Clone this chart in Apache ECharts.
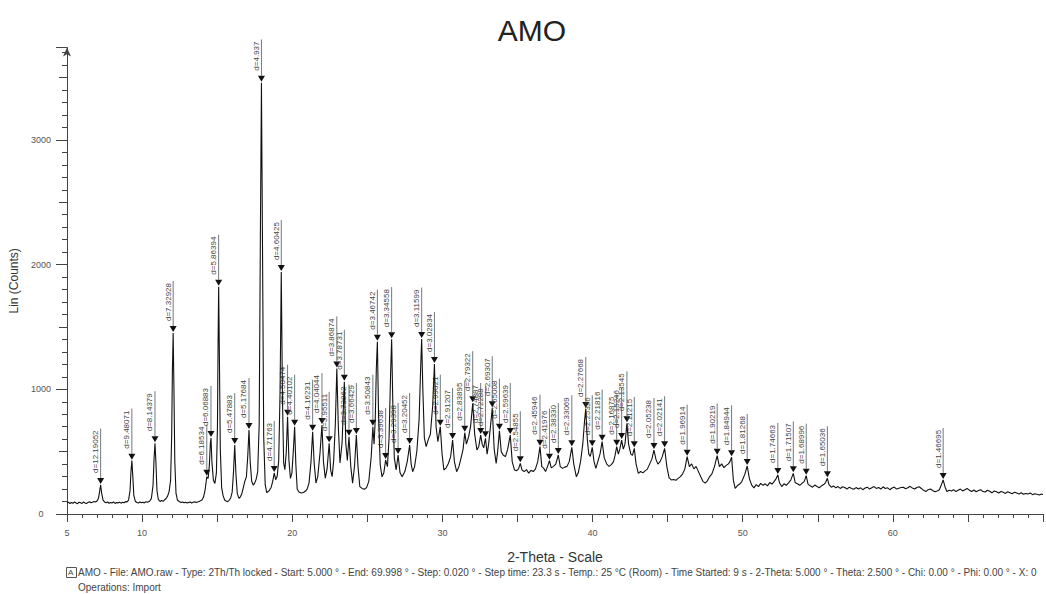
<!DOCTYPE html>
<html><head><meta charset="utf-8">
<script src="https://cdn.jsdelivr.net/npm/echarts@6/dist/echarts.min.js"></script>
<style>html,body{margin:0;padding:0;background:#fff}#c{width:1046px;height:594px}</style>
</head><body><div id="c"></div><script>
const chartTitle = 'AMO';
const xAxisTitle = '2-Theta - Scale';
const yAxisTitle = 'Lin (Counts)';
const xTickLabels = [5, 10, 20, 30, 40, 50, 60];
const yTickLabels = [0, 1000, 2000, 3000];
const footerLines = [
  'AMO - File: AMO.raw - Type: 2Th/Th locked - Start: 5.000 \u00b0 - End: 69.998 \u00b0 - Step: 0.020 \u00b0 - Step time: 23.3 s - Temp.: 25 \u00b0C (Room) - Time Started: 9 s - 2-Theta: 5.000 \u00b0 - Theta: 2.500 \u00b0 - Chi: 0.00 \u00b0 - Phi: 0.00 \u00b0 - X: 0',
  'Operations: Import'
];

// 2-Theta (deg), Lin counts
const profile = [
[5.00,88],[5.10,95],[5.20,84],[5.30,92],[5.40,86],[5.50,97],[5.60,88],[5.70,83],[5.80,94],[5.90,90],
[6.00,85],[6.10,96],[6.20,89],[6.30,84],[6.40,93],[6.50,99],[6.60,90],[6.70,95],[6.80,101],[6.90,96],
[7.00,104],[7.10,128],[7.17,180],[7.24,233],[7.31,165],[7.40,112],[7.50,97],[7.60,90],[7.70,96],[7.80,86],
[7.90,93],[8.00,88],[8.10,97],[8.20,85],[8.30,92],[8.40,89],[8.50,95],[8.60,87],[8.70,94],[8.80,90],
[8.90,99],[9.00,97],[9.10,112],[9.20,190],[9.26,340],[9.32,428],[9.38,310],[9.45,150],[9.55,102],[9.65,92],
[9.75,88],[9.85,96],[9.95,90],[10.05,95],[10.15,89],[10.25,98],[10.35,94],[10.50,102],[10.62,125],[10.73,230],
[10.80,450],[10.86,567],[10.92,420],[10.99,190],[11.08,118],[11.20,100],[11.30,108],[11.40,102],[11.50,114],[11.60,124],
[11.70,143],[11.80,180],[11.90,270],[11.97,620],[12.02,1150],[12.07,1451],[12.12,1020],[12.18,420],[12.26,165],[12.36,110],
[12.50,98],[12.60,92],[12.70,97],[12.80,90],[12.90,95],[13.00,88],[13.10,93],[13.20,96],[13.30,89],[13.40,94],
[13.50,98],[13.60,92],[13.70,97],[13.80,101],[13.90,106],[14.00,114],[14.10,138],[14.20,195],[14.31,299],[14.40,285],
[14.48,390],[14.55,570],[14.59,609],[14.65,420],[14.75,270],[14.85,245],[14.95,330],[15.02,700],[15.06,1350],[15.10,1823],
[15.15,1250],[15.21,520],[15.30,210],[15.40,145],[15.50,112],[15.60,104],[15.70,99],[15.80,110],[15.90,128],[16.00,175],
[16.09,340],[16.17,553],[16.25,320],[16.34,165],[16.45,125],[16.55,138],[16.65,165],[16.75,215],[16.85,265],[16.95,300],
[17.04,470],[17.12,673],[17.20,420],[17.30,262],[17.40,232],[17.50,248],[17.60,280],[17.70,340],[17.80,720],[17.88,2250],
[17.95,3459],[18.02,2150],[18.10,620],[18.20,235],[18.30,172],[18.45,185],[18.60,215],[18.70,262],[18.80,329],[18.90,275],
[19.00,305],[19.10,430],[19.19,980],[19.27,1940],[19.35,920],[19.43,410],[19.51,355],[19.60,490],[19.69,780],[19.78,430],
[19.88,285],[19.98,330],[20.08,520],[20.16,700],[20.24,400],[20.33,200],[20.45,176],[20.60,168],[20.75,172],[20.90,186],
[21.00,202],[21.12,250],[21.25,420],[21.36,660],[21.46,410],[21.58,248],[21.70,300],[21.85,490],[21.98,713],[22.08,420],
[22.20,288],[22.32,360],[22.46,567],[22.56,350],[22.66,300],[22.76,430],[22.87,720],[22.97,1167],[23.07,700],[23.18,410],
[23.32,570],[23.47,1061],[23.57,560],[23.67,430],[23.78,620],[23.90,380],[24.02,248],[24.15,385],[24.27,633],[24.38,380],
[24.50,220],[24.65,205],[24.80,198],[24.95,212],[25.10,262],[25.26,460],[25.37,700],[25.45,560],[25.53,760],[25.60,1160],
[25.67,1382],[25.75,790],[25.86,395],[25.98,298],[26.10,330],[26.22,433],[26.34,380],[26.45,610],[26.55,1120],[26.62,1402],
[26.70,880],[26.80,450],[26.92,353],[27.05,473],[27.18,330],[27.32,298],[27.50,340],[27.66,420],[27.82,553],[27.92,400],
[28.02,339],[28.15,380],[28.30,505],[28.45,760],[28.55,1160],[28.62,1403],[28.70,990],[28.80,610],[28.92,540],[29.05,592],
[29.20,640],[29.35,860],[29.47,1203],[29.58,700],[29.70,580],[29.86,700],[29.98,480],[30.10,353],[30.25,370],[30.40,405],
[30.55,460],[30.68,593],[30.80,420],[30.95,339],[31.10,380],[31.25,452],[31.38,520],[31.49,652],[31.60,560],[31.75,620],
[31.88,705],[32.02,888],[32.15,640],[32.30,513],[32.42,540],[32.55,633],[32.65,560],[32.75,530],[32.87,607],[32.98,480],
[33.08,560],[33.20,700],[33.32,848],[33.45,520],[33.58,406],[33.68,500],[33.80,668],[33.92,500],[34.05,473],[34.20,460],
[34.35,520],[34.52,633],[34.65,420],[34.80,353],[34.95,348],[35.07,362],[35.19,406],[35.30,353],[35.45,340],[35.60,356],
[35.75,328],[35.90,350],[36.05,340],[36.20,362],[36.35,420],[36.50,540],[36.62,380],[36.75,366],[36.87,340],[37.00,380],
[37.13,428],[37.25,370],[37.40,382],[37.55,400],[37.72,473],[37.85,380],[38.00,366],[38.15,376],[38.30,382],[38.45,420],
[38.62,535],[38.75,400],[38.92,299],[39.05,330],[39.20,420],[39.35,560],[39.47,750],[39.55,842],[39.65,600],[39.75,480],
[39.85,462],[39.98,535],[40.10,420],[40.22,366],[40.35,420],[40.50,482],[40.64,580],[40.78,450],[40.95,400],[41.10,382],
[41.25,396],[41.40,420],[41.50,470],[41.61,540],[41.72,480],[41.82,522],[41.94,593],[42.05,520],[42.16,560],[42.29,727],
[42.40,560],[42.55,480],[42.66,470],[42.78,527],[42.90,400],[43.05,326],[43.20,342],[43.35,330],[43.50,346],[43.65,360],
[43.80,400],[43.95,440],[44.09,513],[44.22,440],[44.35,400],[44.50,420],[44.65,462],[44.80,527],[44.95,380],[45.10,290],
[45.25,273],[45.40,277],[45.55,270],[45.70,286],[45.85,300],[46.00,322],[46.15,362],[46.30,460],[46.45,380],[46.60,402],
[46.75,362],[46.90,382],[47.05,340],[47.20,300],[47.35,262],[47.50,248],[47.65,266],[47.80,300],[47.95,322],[48.12,380],
[48.30,468],[48.45,380],[48.60,402],[48.75,372],[48.90,390],[49.05,402],[49.15,420],[49.26,455],[49.38,270],[49.50,206],
[49.65,228],[49.80,240],[49.95,262],[50.15,322],[50.30,385],[50.45,282],[50.60,232],[50.75,210],[50.90,236],[51.05,220],
[51.20,246],[51.35,230],[51.50,242],[51.65,226],[51.80,252],[51.95,240],[52.10,262],[52.22,282],[52.34,313],[52.45,250],
[52.60,220],[52.75,242],[52.90,230],[53.05,250],[53.20,272],[53.37,326],[53.50,250],[53.65,242],[53.80,230],[53.95,246],
[54.10,262],[54.23,307],[54.35,240],[54.50,226],[54.65,215],[54.80,232],[54.95,220],[55.10,210],[55.25,226],[55.40,236],
[55.52,252],[55.64,286],[55.75,236],[55.90,215],[56.05,225],[56.20,210],[56.35,220],[56.50,205],[56.65,218],[56.80,212],
[56.95,200],[57.10,215],[57.25,205],[57.40,198],[57.55,212],[57.70,200],[57.85,210],[58.00,195],[58.15,208],[58.30,215],
[58.45,200],[58.60,210],[58.75,220],[58.90,205],[59.05,212],[59.20,200],[59.35,218],[59.50,205],[59.65,210],[59.80,195],
[59.95,208],[60.10,216],[60.25,200],[60.40,206],[60.55,212],[60.70,215],[60.85,203],[61.00,210],[61.15,222],[61.30,208],
[61.45,200],[61.60,212],[61.75,218],[61.90,205],[62.05,190],[62.20,180],[62.35,195],[62.50,200],[62.65,188],[62.80,178],
[62.95,185],[63.10,195],[63.22,230],[63.35,273],[63.48,215],[63.60,180],[63.75,190],[63.90,185],[64.05,195],[64.20,180],
[64.35,190],[64.50,200],[64.65,185],[64.80,195],[64.95,205],[65.10,190],[65.25,180],[65.40,192],[65.55,178],[65.70,188],
[65.85,195],[66.00,180],[66.15,176],[66.30,190],[66.45,182],[66.60,170],[66.75,185],[66.90,178],[67.05,168],[67.20,180],
[67.35,174],[67.50,165],[67.65,178],[67.80,170],[67.95,162],[68.10,175],[68.25,168],[68.40,160],[68.55,170],[68.70,158],
[68.85,165],[69.00,160],[69.15,168],[69.30,155],[69.45,162],[69.60,158],[69.75,152],[69.90,160],[70.00,156]
];

const peakTheta = [7.24,9.32,10.86,12.07,14.31,14.59,15.10,16.17,17.12,17.95,18.80,19.27,19.69,20.16,21.36,21.98,22.46,22.97,23.47,23.78,24.27,25.37,25.67,26.22,26.62,27.05,27.82,28.62,29.47,29.86,30.68,31.49,32.02,32.55,32.87,33.32,33.80,34.52,35.19,36.50,37.13,37.72,38.62,39.55,39.98,40.64,41.61,41.94,42.29,42.78,44.09,44.80,46.30,48.30,49.26,50.30,52.34,53.37,54.23,55.64,63.35];
const peakCounts = [233,428,567,1451,299,609,1823,553,673,3459,329,1940,780,700,660,713,567,1167,1061,620,633,700,1382,433,1402,473,553,1403,1203,700,593,652,888,633,607,848,668,633,406,540,428,473,535,842,535,580,540,593,727,527,513,527,460,468,455,385,313,326,307,286,273];
const peakLabels = ['d=12.19052','d=9.48071','d=8.14379','d=7.32928','d=6.18534','d=6.06883','d=5.86394','d=5.47883','d=5.17684','d=4.937','d=4.71763','d=4.60425','d=4.50474','d=4.40102','d=4.16231','d=4.04044','d=3.95511','d=3.86874','d=3.78731','d=3.73862','d=3.66429','d=3.50843','d=3.46742','d=3.39638','d=3.34558','d=3.29398','d=3.20452','d=3.11599','d=3.02834','d=2.99021','d=2.91207','d=2.83895','d=2.79322','d=2.74887','d=2.72288','d=2.69307','d=2.65008','d=2.59639','d=2.54855','d=2.45946','d=2.41976','d=2.38330','d=2.33069','d=2.27668','d=2.25326','d=2.21816','d=2.16875','d=2.15246','d=2.13545','d=2.11215','d=2.05238','d=2.02141','d=1.96914','d=1.90219','d=1.84944','d=1.81268','d=1.74663','d=1.71507','d=1.68996','d=1.65036','d=1.46695'];

const FONT = '"Liberation Sans", Arial, sans-serif';
const measureCtx = document.createElement('canvas').getContext('2d');
measureCtx.font = '8px ' + FONT;

const chart = echarts.init(document.getElementById('c'), null, {renderer: 'svg'});
const axisColor = '#444';
const yMax = 3740;
const xBase = {type: 'value', min: 5, max: 70, position: 'bottom', splitLine: {show: false}, axisLine: {show: false}, axisLabel: {show: false}};
const yBase = {type: 'value', min: 0, max: yMax, position: 'left', splitLine: {show: false}, axisLine: {show: false}, axisLabel: {show: false}};

chart.setOption({
  backgroundColor: '#fff',
  animation: false,
  textStyle: {fontFamily: FONT},
  grid: {left: 66, top: 514 - yMax * 0.1247, height: yMax * 0.1247, width: 985, containLabel: false},
  xAxis: [
    Object.assign({}, xBase, {
      interval: 5,
      axisLine: {show: true, lineStyle: {color: axisColor, width: 1}},
      axisTick: {show: true, length: 8, lineStyle: {color: axisColor}},
      axisLabel: {show: true, fontSize: 9, color: '#555', margin: 14, formatter: v => xTickLabels.includes(v) ? String(v) : ''},
      name: xAxisTitle, nameLocation: 'middle', nameGap: 36, nameTextStyle: {fontSize: 14, color: '#333', fontFamily: FONT}
    }),
    Object.assign({}, xBase, {interval: 1, axisTick: {show: true, length: 4, lineStyle: {color: axisColor}}})
  ],
  yAxis: [
    Object.assign({}, yBase, {
      interval: 1000,
      axisLine: {show: true, lineStyle: {color: axisColor, width: 1}, symbol: ['none', 'arrow'], symbolSize: [6, 9]},
      axisTick: {show: true, length: 11, lineStyle: {color: axisColor}},
      axisLabel: {show: true, fontSize: 9, color: '#555', margin: 26, align: 'center', formatter: v => yTickLabels.includes(v) ? String(v) : ''},
      name: yAxisTitle, nameLocation: 'middle', nameGap: 47, nameRotate: 90, nameTextStyle: {fontSize: 12, color: '#333', fontFamily: FONT}
    }),
    Object.assign({}, yBase, {interval: 500, axisTick: {show: true, length: 8, lineStyle: {color: axisColor}}}),
    Object.assign({}, yBase, {interval: 100, axisTick: {show: true, length: 5, lineStyle: {color: axisColor}}})
  ],
  graphic: [
    {type: 'text', x: 532, y: 30, style: {text: chartTitle, font: '30px ' + FONT, fill: '#222', align: 'center', verticalAlign: 'middle', textAlign: 'center', textVerticalAlign: 'middle'}},
    {type: 'rect', left: 66, top: 567, shape: {width: 10, height: 10}, style: {fill: '#fff', stroke: '#555', lineWidth: 1}},
    {type: 'text', left: 68, top: 568, style: {text: 'A', font: '8px ' + FONT, fill: '#444'}},
    {type: 'text', left: 78, top: 567, style: {text: footerLines[0], font: '10px ' + FONT, fill: '#444'}},
    {type: 'text', left: 78, top: 582, style: {text: footerLines[1], font: '10px ' + FONT, fill: '#444'}}
  ],
  series: [
    {
      type: 'line', xAxisIndex: 0, yAxisIndex: 0, data: profile, showSymbol: false, symbol: 'none',
      lineStyle: {color: '#111', width: 1.1}, silent: true
    },
    {
      type: 'custom', xAxisIndex: 0, yAxisIndex: 0, silent: true, clip: false,
      data: peakTheta.map((t, i) => [t, peakCounts[i]]),
      renderItem: function (params, api) {
        const p = api.coord([api.value(0), api.value(1)]);
        const lab = peakLabels[params.dataIndex];
        const w = measureCtx.measureText(lab).width;
        const tipY = p[1] - 1, baseY = tipY - 6, gap = 5;
        const topY = baseY - gap - w - 2;
        return {type: 'group', children: [
          {type: 'line', shape: {x1: p[0], y1: baseY, x2: p[0], y2: topY}, style: {stroke: '#777', lineWidth: 1}},
          {type: 'polygon', shape: {points: [[p[0] - 3.5, baseY], [p[0] + 3.5, baseY], [p[0], tipY]]}, style: {fill: '#111'}},
          {type: 'text', x: p[0] - 1, y: baseY - gap, rotation: Math.PI / 2,
           style: {text: lab, font: '8px ' + FONT, fill: '#444', align: 'left', verticalAlign: 'bottom', textAlign: 'left', textVerticalAlign: 'bottom'}}
        ]};
      }
    }
  ]
});
</script></body></html>
